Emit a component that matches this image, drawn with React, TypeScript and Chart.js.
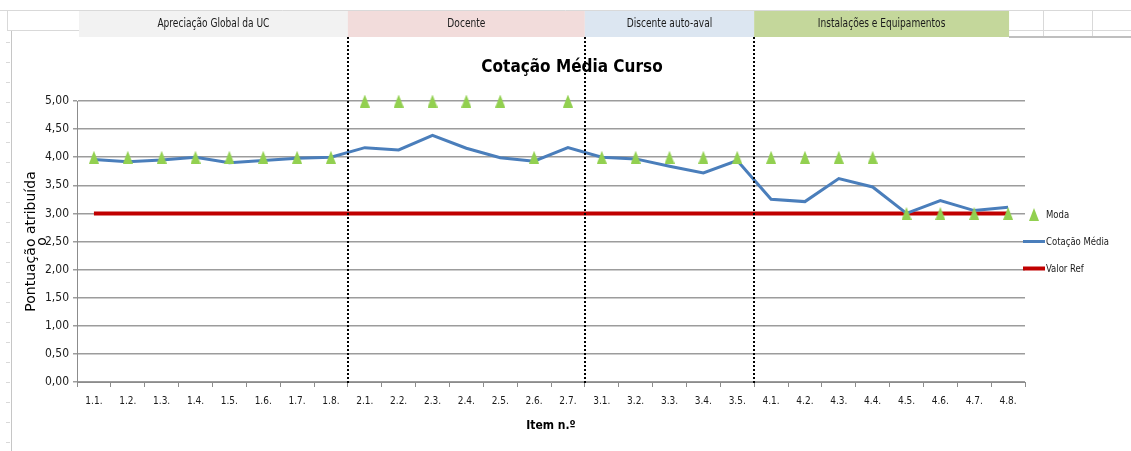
import React, { useEffect, useRef } from 'react';
import { Chart, registerables } from 'chart.js';

Chart.register(...registerables);

const categories = [
  '1.1.', '1.2.', '1.3.', '1.4.', '1.5.', '1.6.', '1.7.', '1.8.',
  '2.1.', '2.2.', '2.3.', '2.4.', '2.5.', '2.6.', '2.7.',
  '3.1.', '3.2.', '3.3.', '3.4.', '3.5.',
  '4.1.', '4.2.', '4.3.', '4.4.', '4.5.', '4.6.', '4.7.', '4.8.',
];

const moda = [
  4, 4, 4, 4, 4, 4, 4, 4,
  5, 5, 5, 5, 5, 4, 5,
  4, 4, 4, 4, 4,
  4, 4, 4, 4, 3, 3, 3, 3,
];

const cotacaoMedia = [
  3.96, 3.92, 3.95, 4.0, 3.9, 3.94, 3.98, 4.0,
  4.17, 4.13, 4.39, 4.16, 3.99, 3.93, 4.17,
  4.0, 3.97, 3.84, 3.72, 3.94,
  3.25, 3.21, 3.62, 3.47, 3.0, 3.23, 3.05, 3.11,
];

const valorRef = [
  3, 3, 3, 3, 3, 3, 3, 3,
  3, 3, 3, 3, 3, 3, 3,
  3, 3, 3, 3, 3,
  3, 3, 3, 3, 3, 3, 3, 3,
];

const seriesLabels = ['Moda', 'Cotação Média', 'Valor Ref'];
const seriesColors = ['#92D050', '#4A7EBB', '#C00000'];

const sectionNames = ['Apreciação Global da UC', 'Docente', 'Discente auto-aval', 'Instalações e Equipamentos'];
const sectionSizes = [8, 7, 5, 8];
const sectionColors = ['#f2f2f2', '#f2dcdb', '#dce6f1', '#c4d79b'];

const chartTitle = 'Cotação Média Curso';
const xTitle = 'Item n.º';
const yTitle = ['Pontuação atribuída', 'o'];

const NARROW = "'Liberation Sans Narrow', 'DejaVu Sans Condensed', 'Liberation Sans', sans-serif";

function makeTriangle(w: number, h: number, color: string) {
  const c = document.createElement('canvas');
  c.width = w;
  c.height = h;
  const g = c.getContext('2d')!;
  g.fillStyle = color;
  g.beginPath();
  g.moveTo(w / 2, 0);
  g.lineTo(w, h);
  g.lineTo(0, h);
  g.closePath();
  g.fill();
  return c;
}

function narrowText(ctx: CanvasRenderingContext2D, text: string, x: number, y: number, squeeze: number) {
  const w = ctx.measureText(text).width;
  ctx.fillText(text, x, y, w * squeeze);
}

const decorPlugin = {
  id: 'decor',
  beforeDraw(chart: any) {
    const { ctx, width, height } = chart;
    const x = chart.scales.x;
    ctx.save();
    ctx.fillStyle = '#ffffff';
    ctx.fillRect(0, 0, width, height);

    // spreadsheet cell lines
    ctx.strokeStyle = '#d9d9d9';
    ctx.lineWidth = 1;
    ctx.beginPath();
    ctx.moveTo(0, 10.5); ctx.lineTo(width, 10.5);
    ctx.moveTo(7, 30.5); ctx.lineTo(80, 30.5);
    ctx.moveTo(1009, 30.5); ctx.lineTo(width, 30.5);
    ctx.moveTo(7.5, 10); ctx.lineTo(7.5, 31);
    ctx.moveTo(1043.5, 10); ctx.lineTo(1043.5, 37);
    ctx.moveTo(1092.5, 10); ctx.lineTo(1092.5, 37);
    for (let yy = 42; yy < height; yy += 20) {
      ctx.moveTo(6, yy + 0.5); ctx.lineTo(10, yy + 0.5);
    }
    ctx.stroke();
    ctx.strokeStyle = '#c6c6c6';
    ctx.beginPath();
    ctx.moveTo(11.5, 31); ctx.lineTo(11.5, height);
    ctx.stroke();
    ctx.strokeStyle = '#bfbfbf';
    ctx.lineWidth = 2;
    ctx.beginPath();
    ctx.moveTo(1009, 37); ctx.lineTo(width, 37);
    ctx.stroke();

    // section header bands
    const step = x.getPixelForValue(1) - x.getPixelForValue(0);
    let start = 0;
    ctx.font = `12px ${NARROW}`;
    ctx.textAlign = 'center';
    ctx.textBaseline = 'middle';
    sectionSizes.forEach((n, i) => {
      const left = x.getPixelForValue(start) - step / 2 + (i === 0 ? 2 : 0);
      const last = i === sectionSizes.length - 1;
      const right = last ? x.getPixelForValue(start + n - 1) + 1 : x.getPixelForValue(start + n) - step / 2;
      ctx.fillStyle = sectionColors[i];
      ctx.fillRect(left, 11, right - left, 26);
      ctx.fillStyle = '#1a1a1a';
      narrowText(ctx, sectionNames[i], (left + right) / 2, 24, 0.84);
      start += n;
    });
    ctx.restore();
  },
  afterDatasetsDraw(chart: any) {
    const { ctx, chartArea } = chart;
    const x = chart.scales.x;
    const step = x.getPixelForValue(1) - x.getPixelForValue(0);
    ctx.save();
    // dotted section separators
    ctx.strokeStyle = '#000000';
    ctx.lineWidth = 2;
    ctx.setLineDash([2, 2]);
    let start = 0;
    for (let i = 0; i < sectionSizes.length - 1; i++) {
      start += sectionSizes[i];
      const px = Math.round(x.getPixelForValue(start) - step / 2);
      ctx.beginPath();
      ctx.moveTo(px, 37);
      ctx.lineTo(px, chartArea.bottom + 2);
      ctx.stroke();
    }
    ctx.setLineDash([]);

    // legend
    const cy = (chartArea.top + chartArea.bottom) / 2;
    const lx = chartArea.right;
    const ys = [cy - 27, cy, cy + 27];
    ctx.font = `11px ${NARROW}`;
    ctx.textAlign = 'left';
    ctx.textBaseline = 'middle';
    seriesLabels.forEach((lab, i) => {
      const yy = ys[i];
      if (i === 0) {
        const tri = chart.data.datasets[0].pointStyle;
        ctx.drawImage(tri, lx + 9 - tri.width / 2, yy - tri.height / 2);
      } else {
        ctx.strokeStyle = seriesColors[i];
        ctx.lineWidth = i === 2 ? 4 : 3;
        ctx.beginPath();
        ctx.moveTo(lx - 2, yy);
        ctx.lineTo(lx + 20, yy);
        ctx.stroke();
      }
      ctx.fillStyle = '#1a1a1a';
      narrowText(ctx, lab, lx + 21, yy + 1, 0.86);
    });
    ctx.restore();
  },
};

export default function App() {
  const ref = useRef<HTMLCanvasElement | null>(null);

  useEffect(() => {
    document.body.style.margin = '0';
    const canvas = ref.current!;
    const tri = makeTriangle(10, 13, seriesColors[0]);
    const chart = new Chart(canvas, {
      type: 'line',
      data: {
        labels: categories,
        datasets: [
          {
            label: seriesLabels[0],
            data: moda,
            showLine: false,
            pointStyle: tri as any,
            pointRadius: 6,
            borderColor: seriesColors[0],
            backgroundColor: seriesColors[0],
            clip: false as any,
          },
          {
            label: seriesLabels[1],
            data: cotacaoMedia,
            borderColor: seriesColors[1],
            backgroundColor: seriesColors[1],
            borderWidth: 3,
            pointRadius: 0,
            tension: 0,
            clip: false as any,
          },
          {
            label: seriesLabels[2],
            data: valorRef,
            borderColor: seriesColors[2],
            backgroundColor: seriesColors[2],
            borderWidth: 4,
            pointRadius: 0,
            clip: false as any,
          },
        ],
      },
      options: {
        responsive: false,
        animation: false,
        events: [],
        layout: { padding: { left: 13, top: 0, right: 0, bottom: 0 } },
        plugins: {
          legend: { display: false },
          tooltip: { enabled: false },
          title: {
            display: true,
            text: chartTitle,
            color: '#000000',
            font: { family: NARROW, size: 17, weight: 'bold' },
            padding: { top: 57, bottom: 23.6 },
          },
        },
        scales: {
          x: {
            type: 'category',
            offset: true,
            grid: {
              offset: true,
              drawOnChartArea: false,
              drawTicks: true,
              tickLength: 5,
              color: '#8c8c8c',
            },
            border: { display: true, color: '#8c8c8c', width: 1 },
            ticks: {
              color: '#1a1a1a',
              font: { family: NARROW, size: 10 },
              padding: 8,
              maxRotation: 0,
              autoSkip: false,
            },
            title: {
              display: true,
              text: xTitle,
              color: '#000000',
              font: { family: NARROW, size: 12, weight: 'bold' },
              padding: { top: 0, bottom: 18 },
            },
            afterFit: (s: any) => { s.height = 69; },
          },
          y: {
            type: 'linear',
            min: 0,
            max: 5,
            ticks: {
              stepSize: 0.5,
              color: '#1a1a1a',
              font: { family: NARROW, size: 12 },
              padding: 4,
              callback: (v: any) => Number(v).toFixed(2).replace('.', ','),
            },
            grid: {
              color: '#9c9c9c',
              lineWidth: 1.5,
              tickLength: 4,
            },
            border: { display: true, color: '#8c8c8c', width: 1 },
            title: {
              display: true,
              text: yTitle,
              color: '#000000',
              font: { family: "'DejaVu Sans', sans-serif", size: 14, lineHeight: 0.85 },
              padding: { top: 12, bottom: 0 },
            },
            afterFit: (s: any) => { s.width = 64; },
          },
          yRight: {
            type: 'linear',
            position: 'right',
            display: true,
            grid: { drawOnChartArea: false, drawTicks: false },
            border: { display: false },
            ticks: { display: false },
            afterFit: (s: any) => { s.width = 106; },
          },
        },
      },
      plugins: [decorPlugin],
    });
    return () => chart.destroy();
  }, []);

  return (
    <div style={{ width: 1131, height: 451 }}>
      <canvas ref={ref} width={1131} height={451} style={{ display: 'block' }} />
    </div>
  );
}
